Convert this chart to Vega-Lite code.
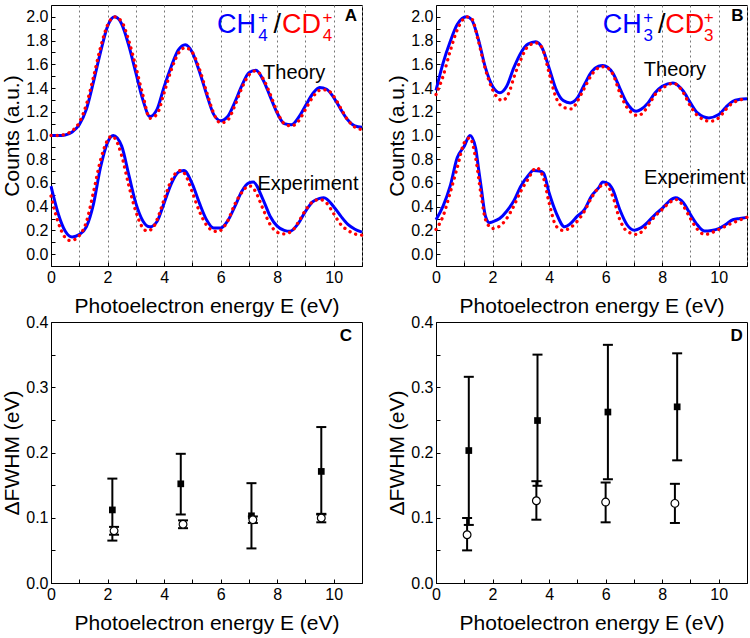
{
  "$schema": "https://vega.github.io/schema/vega-lite/v6.json",
  "padding": {"left": 1, "top": 4, "right": 4, "bottom": 0},
  "background": "white",
  "columns": 2,
  "spacing": {"row": 56, "column": 74},
  "bounds": "flush",
  "config": {
    "font": "Liberation Sans",
    "view": {"stroke": "black", "strokeWidth": 1},
    "axis": {"grid": false, "domainColor": "black", "domainWidth": 1, "tickColor": "black", "tickSize": -4, "tickWidth": 1, "labelPadding": 7, "labelFontSize": 16, "labelColor": "black", "labelFont": "Liberation Sans", "titleFont": "Liberation Sans", "titleFontSize": 21, "titleFontWeight": "normal", "titleColor": "black", "labelFlush": false, "labelOverlap": false},
    "axisX": {"titlePadding": 10},
    "axisY": {"titlePadding": 3}
  },
  "datasets": {
    "ATH": [{"E":0,"v":1.0},{"E":0.25,"v":1.0},{"E":0.5,"v":1.005},{"E":0.75,"v":1.03},{"E":1.0,"v":1.09},{"E":1.25,"v":1.22},{"E":1.5,"v":1.45},{"E":1.75,"v":1.7},{"E":2.0,"v":1.92},{"E":2.25,"v":2.0},{"E":2.5,"v":1.94},{"E":2.75,"v":1.76},{"E":3.0,"v":1.53},{"E":3.25,"v":1.3},{"E":3.5,"v":1.16},{"E":3.75,"v":1.22},{"E":4.0,"v":1.41},{"E":4.25,"v":1.58},{"E":4.5,"v":1.72},{"E":4.75,"v":1.765},{"E":5.0,"v":1.7},{"E":5.25,"v":1.54},{"E":5.5,"v":1.35},{"E":5.75,"v":1.18},{"E":6.0,"v":1.125},{"E":6.25,"v":1.16},{"E":6.5,"v":1.28},{"E":6.75,"v":1.42},{"E":7.0,"v":1.53},{"E":7.25,"v":1.55},{"E":7.5,"v":1.47},{"E":7.75,"v":1.33},{"E":8.0,"v":1.19},{"E":8.25,"v":1.1},{"E":8.5,"v":1.09},{"E":8.75,"v":1.15},{"E":9.0,"v":1.25},{"E":9.25,"v":1.35},{"E":9.5,"v":1.405},{"E":9.75,"v":1.39},{"E":10.0,"v":1.32},{"E":10.25,"v":1.22},{"E":10.5,"v":1.13},{"E":10.75,"v":1.08},{"E":11.0,"v":1.07}],
    "ATD": [{"E":0,"v":1.0},{"E":0.25,"v":1.0},{"E":0.5,"v":1.01},{"E":0.75,"v":1.04},{"E":1.0,"v":1.11},{"E":1.25,"v":1.26},{"E":1.5,"v":1.49},{"E":1.75,"v":1.74},{"E":2.0,"v":1.93},{"E":2.25,"v":2.0},{"E":2.5,"v":1.96},{"E":2.75,"v":1.8},{"E":3.0,"v":1.58},{"E":3.25,"v":1.34},{"E":3.5,"v":1.145},{"E":3.75,"v":1.18},{"E":4.0,"v":1.36},{"E":4.25,"v":1.55},{"E":4.5,"v":1.69},{"E":4.75,"v":1.74},{"E":5.0,"v":1.7},{"E":5.25,"v":1.56},{"E":5.5,"v":1.37},{"E":5.75,"v":1.19},{"E":6.0,"v":1.105},{"E":6.25,"v":1.13},{"E":6.5,"v":1.25},{"E":6.75,"v":1.4},{"E":7.0,"v":1.51},{"E":7.25,"v":1.545},{"E":7.5,"v":1.48},{"E":7.75,"v":1.35},{"E":8.0,"v":1.2},{"E":8.25,"v":1.1},{"E":8.5,"v":1.08},{"E":8.75,"v":1.12},{"E":9.0,"v":1.22},{"E":9.25,"v":1.32},{"E":9.5,"v":1.38},{"E":9.75,"v":1.385},{"E":10.0,"v":1.33},{"E":10.25,"v":1.23},{"E":10.5,"v":1.13},{"E":10.75,"v":1.07},{"E":11.0,"v":1.05}],
    "AEH": [{"E":0,"v":0.573},{"E":0.25,"v":0.345},{"E":0.5,"v":0.195},{"E":0.75,"v":0.145},{"E":1.0,"v":0.165},{"E":1.25,"v":0.23},{"E":1.5,"v":0.42},{"E":1.75,"v":0.73},{"E":2.0,"v":0.94},{"E":2.2,"v":1.0},{"E":2.5,"v":0.91},{"E":2.75,"v":0.67},{"E":3.0,"v":0.43},{"E":3.25,"v":0.28},{"E":3.5,"v":0.23},{"E":3.75,"v":0.275},{"E":4.0,"v":0.43},{"E":4.25,"v":0.59},{"E":4.5,"v":0.69},{"E":4.7,"v":0.705},{"E":5.0,"v":0.59},{"E":5.25,"v":0.43},{"E":5.5,"v":0.29},{"E":5.75,"v":0.22},{"E":6.0,"v":0.22},{"E":6.25,"v":0.28},{"E":6.5,"v":0.4},{"E":6.75,"v":0.53},{"E":7.0,"v":0.6},{"E":7.15,"v":0.607},{"E":7.5,"v":0.46},{"E":7.75,"v":0.32},{"E":8.0,"v":0.236},{"E":8.25,"v":0.2},{"E":8.45,"v":0.192},{"E":8.75,"v":0.26},{"E":9.0,"v":0.36},{"E":9.25,"v":0.44},{"E":9.5,"v":0.47},{"E":9.65,"v":0.475},{"E":10.0,"v":0.4},{"E":10.25,"v":0.32},{"E":10.5,"v":0.25},{"E":10.75,"v":0.21},{"E":11.0,"v":0.186}],
    "AED": [{"E":0,"v":0.49},{"E":0.25,"v":0.27},{"E":0.5,"v":0.14},{"E":0.67,"v":0.115},{"E":0.9,"v":0.13},{"E":1.0,"v":0.155},{"E":1.25,"v":0.27},{"E":1.5,"v":0.52},{"E":1.75,"v":0.79},{"E":2.0,"v":0.96},{"E":2.15,"v":0.995},{"E":2.25,"v":0.98},{"E":2.5,"v":0.83},{"E":2.75,"v":0.58},{"E":3.0,"v":0.36},{"E":3.25,"v":0.22},{"E":3.4,"v":0.195},{"E":3.6,"v":0.22},{"E":3.75,"v":0.29},{"E":4.0,"v":0.46},{"E":4.25,"v":0.62},{"E":4.5,"v":0.7},{"E":4.6,"v":0.705},{"E":4.75,"v":0.67},{"E":5.0,"v":0.52},{"E":5.25,"v":0.36},{"E":5.5,"v":0.245},{"E":5.75,"v":0.195},{"E":5.9,"v":0.19},{"E":6.0,"v":0.2},{"E":6.25,"v":0.28},{"E":6.5,"v":0.42},{"E":6.75,"v":0.52},{"E":7.0,"v":0.575},{"E":7.1,"v":0.57},{"E":7.25,"v":0.52},{"E":7.5,"v":0.38},{"E":7.75,"v":0.25},{"E":8.0,"v":0.185},{"E":8.2,"v":0.17},{"E":8.5,"v":0.19},{"E":8.75,"v":0.27},{"E":9.0,"v":0.37},{"E":9.25,"v":0.44},{"E":9.5,"v":0.46},{"E":9.75,"v":0.43},{"E":10.0,"v":0.34},{"E":10.25,"v":0.25},{"E":10.5,"v":0.2},{"E":10.75,"v":0.17},{"E":11.0,"v":0.16}],
    "BTH": [{"E":0,"v":1.38},{"E":0.25,"v":1.61},{"E":0.5,"v":1.79},{"E":0.75,"v":1.935},{"E":1.08,"v":2.0},{"E":1.25,"v":1.98},{"E":1.5,"v":1.81},{"E":1.75,"v":1.57},{"E":2.0,"v":1.415},{"E":2.26,"v":1.36},{"E":2.5,"v":1.415},{"E":2.75,"v":1.57},{"E":3.0,"v":1.696},{"E":3.25,"v":1.77},{"E":3.53,"v":1.79},{"E":3.75,"v":1.74},{"E":4.0,"v":1.57},{"E":4.25,"v":1.387},{"E":4.5,"v":1.295},{"E":4.75,"v":1.275},{"E":5.0,"v":1.317},{"E":5.25,"v":1.43},{"E":5.5,"v":1.536},{"E":5.75,"v":1.584},{"E":5.9,"v":1.59},{"E":6.25,"v":1.528},{"E":6.5,"v":1.4},{"E":6.75,"v":1.275},{"E":7.08,"v":1.205},{"E":7.25,"v":1.22},{"E":7.5,"v":1.275},{"E":7.75,"v":1.36},{"E":8.0,"v":1.415},{"E":8.38,"v":1.443},{"E":8.75,"v":1.373},{"E":9.0,"v":1.275},{"E":9.25,"v":1.19},{"E":9.65,"v":1.148},{"E":10.0,"v":1.176},{"E":10.25,"v":1.238},{"E":10.5,"v":1.289},{"E":10.75,"v":1.305},{"E":11.0,"v":1.31}],
    "BTD": [{"E":0,"v":1.345},{"E":0.25,"v":1.5},{"E":0.5,"v":1.71},{"E":0.75,"v":1.89},{"E":1.1,"v":2.0},{"E":1.25,"v":1.99},{"E":1.5,"v":1.795},{"E":1.75,"v":1.556},{"E":2.0,"v":1.387},{"E":2.35,"v":1.295},{"E":2.6,"v":1.373},{"E":2.75,"v":1.486},{"E":3.0,"v":1.64},{"E":3.25,"v":1.75},{"E":3.55,"v":1.78},{"E":3.75,"v":1.74},{"E":4.0,"v":1.528},{"E":4.25,"v":1.317},{"E":4.5,"v":1.238},{"E":4.8,"v":1.224},{"E":5.0,"v":1.289},{"E":5.25,"v":1.4},{"E":5.5,"v":1.51},{"E":5.75,"v":1.57},{"E":5.95,"v":1.58},{"E":6.25,"v":1.52},{"E":6.5,"v":1.36},{"E":6.75,"v":1.238},{"E":7.15,"v":1.168},{"E":7.5,"v":1.247},{"E":7.75,"v":1.345},{"E":8.0,"v":1.396},{"E":8.4,"v":1.44},{"E":8.75,"v":1.36},{"E":9.0,"v":1.247},{"E":9.25,"v":1.168},{"E":9.7,"v":1.12},{"E":10.0,"v":1.148},{"E":10.25,"v":1.219},{"E":10.5,"v":1.275},{"E":11.0,"v":1.31}],
    "BEH": [{"E":0,"v":0.29},{"E":0.25,"v":0.405},{"E":0.5,"v":0.573},{"E":0.75,"v":0.812},{"E":1.0,"v":0.91},{"E":1.2,"v":1.0},{"E":1.4,"v":0.897},{"E":1.5,"v":0.728},{"E":1.6,"v":0.559},{"E":1.75,"v":0.32},{"E":1.9,"v":0.264},{"E":2.0,"v":0.272},{"E":2.25,"v":0.3},{"E":2.5,"v":0.362},{"E":2.75,"v":0.447},{"E":3.0,"v":0.573},{"E":3.25,"v":0.658},{"E":3.44,"v":0.705},{"E":3.65,"v":0.7},{"E":3.8,"v":0.685},{"E":4.0,"v":0.517},{"E":4.25,"v":0.348},{"E":4.55,"v":0.23},{"E":4.75,"v":0.256},{"E":5.0,"v":0.32},{"E":5.25,"v":0.376},{"E":5.5,"v":0.489},{"E":5.75,"v":0.559},{"E":5.9,"v":0.607},{"E":6.1,"v":0.593},{"E":6.25,"v":0.545},{"E":6.5,"v":0.376},{"E":6.75,"v":0.25},{"E":7.02,"v":0.202},{"E":7.25,"v":0.222},{"E":7.5,"v":0.272},{"E":7.75,"v":0.334},{"E":8.0,"v":0.385},{"E":8.25,"v":0.447},{"E":8.47,"v":0.475},{"E":8.75,"v":0.433},{"E":9.0,"v":0.334},{"E":9.25,"v":0.245},{"E":9.5,"v":0.194},{"E":9.75,"v":0.2},{"E":10.0,"v":0.216},{"E":10.25,"v":0.25},{"E":10.5,"v":0.29},{"E":10.75,"v":0.3},{"E":11.0,"v":0.31}],
    "BED": [{"E":0,"v":0.208},{"E":0.25,"v":0.32},{"E":0.5,"v":0.517},{"E":0.75,"v":0.728},{"E":1.0,"v":0.939},{"E":1.2,"v":0.98},{"E":1.4,"v":0.812},{"E":1.6,"v":0.489},{"E":1.75,"v":0.292},{"E":2.0,"v":0.216},{"E":2.25,"v":0.236},{"E":2.5,"v":0.3},{"E":2.75,"v":0.405},{"E":3.0,"v":0.531},{"E":3.25,"v":0.63},{"E":3.55,"v":0.728},{"E":3.8,"v":0.643},{"E":4.0,"v":0.433},{"E":4.25,"v":0.236},{"E":4.5,"v":0.2},{"E":4.75,"v":0.222},{"E":5.0,"v":0.278},{"E":5.25,"v":0.362},{"E":5.5,"v":0.475},{"E":5.75,"v":0.559},{"E":6.0,"v":0.587},{"E":6.25,"v":0.489},{"E":6.5,"v":0.292},{"E":6.75,"v":0.194},{"E":7.1,"v":0.166},{"E":7.5,"v":0.25},{"E":7.75,"v":0.32},{"E":8.0,"v":0.376},{"E":8.25,"v":0.433},{"E":8.5,"v":0.46},{"E":8.75,"v":0.405},{"E":9.0,"v":0.3},{"E":9.25,"v":0.208},{"E":9.5,"v":0.166},{"E":9.75,"v":0.18},{"E":10.0,"v":0.208},{"E":10.5,"v":0.264},{"E":11.0,"v":0.31}],
    "C": [{"k":"sq","E":2.17,"v":0.112,"lo":0.065,"hi":0.16},{"k":"sq","E":4.59,"v":0.152,"lo":0.105,"hi":0.198},{"k":"sq","E":7.09,"v":0.103,"lo":0.053,"hi":0.153},{"k":"sq","E":9.56,"v":0.171,"lo":0.105,"hi":0.239},{"k":"ci","E":2.23,"v":0.08,"lo":0.074,"hi":0.086},{"k":"ci","E":4.67,"v":0.09,"lo":0.084,"hi":0.096},{"k":"ci","E":7.14,"v":0.097,"lo":0.092,"hi":0.102},{"k":"ci","E":9.56,"v":0.0996,"lo":0.093,"hi":0.106}],
    "D": [{"k":"sq","E":1.16,"v":0.203,"lo":0.089,"hi":0.316},{"k":"sq","E":3.59,"v":0.249,"lo":0.149,"hi":0.35},{"k":"sq","E":6.08,"v":0.262,"lo":0.159,"hi":0.365},{"k":"sq","E":8.53,"v":0.27,"lo":0.188,"hi":0.352},{"k":"ci","E":1.1,"v":0.074,"lo":0.05,"hi":0.0996},{"k":"ci","E":3.55,"v":0.126,"lo":0.097,"hi":0.156},{"k":"ci","E":6.0,"v":0.124,"lo":0.093,"hi":0.154},{"k":"ci","E":8.45,"v":0.122,"lo":0.092,"hi":0.152}],
    "labels": [
      {"p":"A","r":"letter","t":"A","sp":"K","E":10.61,"v":2.005},
      {"p":"B","r":"letter","t":"B","sp":"K","E":10.66,"v":2.005},
      {"p":"C","r":"letter","t":"C","sp":"K","E":10.43,"v":0.378},
      {"p":"D","r":"letter","t":"D","sp":"K","E":10.63,"v":0.378},
      {"p":"A","r":"note","t":"Theory","sp":"K","E":7.5,"v":1.475},
      {"p":"A","r":"note","t":"Experiment","sp":"K","E":7.3,"v":0.54},
      {"p":"B","r":"note","t":"Theory","sp":"K","E":7.35,"v":1.5},
      {"p":"B","r":"note","t":"Experiment","sp":"K","E":7.36,"v":0.59},
      {"p":"A","r":"big","t":"CH","sp":"H","E":5.87,"v":1.863},
      {"p":"A","r":"big","t":"/","sp":"K","E":7.87,"v":1.863},
      {"p":"A","r":"big","t":"CD","sp":"D","E":8.17,"v":1.863},
      {"p":"A","r":"small","t":"4","sp":"H","E":7.5,"v":1.796},
      {"p":"A","r":"small","t":"+","sp":"H","E":7.5,"v":1.948},
      {"p":"A","r":"small","t":"4","sp":"D","E":9.78,"v":1.796},
      {"p":"A","r":"small","t":"+","sp":"D","E":9.78,"v":1.948},
      {"p":"B","r":"big","t":"CH","sp":"H","E":5.9,"v":1.866},
      {"p":"B","r":"big","t":"/","sp":"K","E":7.85,"v":1.866},
      {"p":"B","r":"big","t":"CD","sp":"D","E":8.11,"v":1.866},
      {"p":"B","r":"small","t":"3","sp":"H","E":7.51,"v":1.799},
      {"p":"B","r":"small","t":"+","sp":"H","E":7.51,"v":1.951},
      {"p":"B","r":"small","t":"3","sp":"D","E":9.65,"v":1.799},
      {"p":"B","r":"small","t":"+","sp":"D","E":9.65,"v":1.951}
    ]
  },
  "concat": [
    {
      "width": 311, "height": 261,
      "encoding": {
        "x": {"field": "E", "type": "quantitative", "scale": {"domain": [0, 11], "nice": false}, "axis": {"title": "Photoelectron energy E (eV)", "values": [0,1,2,3,4,5,6,7,8,9,10,11], "labelExpr": "datum.value % 2 == 0 && datum.value < 11 ? datum.label : ''", "grid": true, "gridDash": [2, 3], "gridColor": "#777777", "gridWidth": 1}},
        "y": {"field": "v", "type": "quantitative", "scale": {"domain": [-0.1, 2.1], "nice": false, "zero": false}, "axis": {"title": "Counts (a.u.)", "values": [0,0.1,0.2,0.3,0.4,0.5,0.6,0.7,0.8,0.9,1.0,1.1,1.2,1.3,1.4,1.5,1.6,1.7,1.8,1.9,2.0], "labelExpr": "round(datum.value*10) % 2 == 0 ? format(datum.value, '.1f') : ''"}}
      },
      "layer": [
        {"data": {"name": "ATH"}, "mark": {"type": "line", "color": "#0000ff", "strokeWidth": 3, "interpolate": "monotone"}},
        {"data": {"name": "AEH"}, "mark": {"type": "line", "color": "#0000ff", "strokeWidth": 3, "interpolate": "monotone"}},
        {"data": {"name": "ATD"}, "mark": {"type": "line", "color": "#ff0000", "strokeWidth": 3.3, "strokeDash": [0.1, 6], "strokeCap": "round", "interpolate": "monotone"}},
        {"data": {"name": "AED"}, "mark": {"type": "line", "color": "#ff0000", "strokeWidth": 3.3, "strokeDash": [0.1, 6], "strokeCap": "round", "interpolate": "monotone"}},
        {"data": {"name": "labels"}, "transform": [{"filter": "datum.p == 'A' && datum.r == 'letter'"}], "mark": {"type": "text", "fontSize": 17, "fontWeight": "bold", "align": "center", "baseline": "middle", "color": "black"}, "encoding": {"text": {"field": "t"}}},
        {"data": {"name": "labels"}, "transform": [{"filter": "datum.p == 'A' && datum.r == 'note'"}], "mark": {"type": "text", "fontSize": 20, "align": "left", "baseline": "alphabetic", "color": "black"}, "encoding": {"text": {"field": "t"}}},
        {"data": {"name": "labels"}, "transform": [{"filter": "datum.p == 'A' && datum.r == 'big'"}], "mark": {"type": "text", "fontSize": 27, "align": "left", "baseline": "alphabetic"}, "encoding": {"text": {"field": "t"}, "color": {"field": "sp", "type": "nominal", "scale": {"domain": ["H", "D", "K"], "range": ["#0000ff", "#ff0000", "#000000"]}, "legend": null}}},
        {"data": {"name": "labels"}, "transform": [{"filter": "datum.p == 'A' && datum.r == 'small'"}], "mark": {"type": "text", "fontSize": 17, "align": "center", "baseline": "alphabetic"}, "encoding": {"text": {"field": "t"}, "color": {"field": "sp", "type": "nominal", "scale": {"domain": ["H", "D", "K"], "range": ["#0000ff", "#ff0000", "#000000"]}, "legend": null}}}
      ]
    },
    {
      "width": 311, "height": 261,
      "encoding": {
        "x": {"field": "E", "type": "quantitative", "scale": {"domain": [0, 11], "nice": false}, "axis": {"title": "Photoelectron energy E (eV)", "values": [0,1,2,3,4,5,6,7,8,9,10,11], "labelExpr": "datum.value % 2 == 0 && datum.value < 11 ? datum.label : ''", "grid": true, "gridDash": [2, 3], "gridColor": "#777777", "gridWidth": 1}},
        "y": {"field": "v", "type": "quantitative", "scale": {"domain": [-0.1, 2.1], "nice": false, "zero": false}, "axis": {"title": "Counts (a.u.)", "values": [0,0.1,0.2,0.3,0.4,0.5,0.6,0.7,0.8,0.9,1.0,1.1,1.2,1.3,1.4,1.5,1.6,1.7,1.8,1.9,2.0], "labelExpr": "round(datum.value*10) % 2 == 0 ? format(datum.value, '.1f') : ''"}}
      },
      "layer": [
        {"data": {"name": "BTH"}, "mark": {"type": "line", "color": "#0000ff", "strokeWidth": 3, "interpolate": "monotone"}},
        {"data": {"name": "BEH"}, "mark": {"type": "line", "color": "#0000ff", "strokeWidth": 3, "interpolate": "monotone"}},
        {"data": {"name": "BTD"}, "mark": {"type": "line", "color": "#ff0000", "strokeWidth": 3.3, "strokeDash": [0.1, 6], "strokeCap": "round", "interpolate": "monotone"}},
        {"data": {"name": "BED"}, "mark": {"type": "line", "color": "#ff0000", "strokeWidth": 3.3, "strokeDash": [0.1, 6], "strokeCap": "round", "interpolate": "monotone"}},
        {"data": {"name": "labels"}, "transform": [{"filter": "datum.p == 'B' && datum.r == 'letter'"}], "mark": {"type": "text", "fontSize": 17, "fontWeight": "bold", "align": "center", "baseline": "middle", "color": "black"}, "encoding": {"text": {"field": "t"}}},
        {"data": {"name": "labels"}, "transform": [{"filter": "datum.p == 'B' && datum.r == 'note'"}], "mark": {"type": "text", "fontSize": 20, "align": "left", "baseline": "alphabetic", "color": "black"}, "encoding": {"text": {"field": "t"}}},
        {"data": {"name": "labels"}, "transform": [{"filter": "datum.p == 'B' && datum.r == 'big'"}], "mark": {"type": "text", "fontSize": 27, "align": "left", "baseline": "alphabetic"}, "encoding": {"text": {"field": "t"}, "color": {"field": "sp", "type": "nominal", "scale": {"domain": ["H", "D", "K"], "range": ["#0000ff", "#ff0000", "#000000"]}, "legend": null}}},
        {"data": {"name": "labels"}, "transform": [{"filter": "datum.p == 'B' && datum.r == 'small'"}], "mark": {"type": "text", "fontSize": 17, "align": "center", "baseline": "alphabetic"}, "encoding": {"text": {"field": "t"}, "color": {"field": "sp", "type": "nominal", "scale": {"domain": ["H", "D", "K"], "range": ["#0000ff", "#ff0000", "#000000"]}, "legend": null}}}
      ]
    },
    {
      "width": 311, "height": 261,
      "encoding": {
        "x": {"field": "E", "type": "quantitative", "scale": {"domain": [0, 11], "nice": false}, "axis": {"title": "Photoelectron energy E (eV)", "values": [0,1,2,3,4,5,6,7,8,9,10,11], "labelExpr": "datum.value % 2 == 0 && datum.value < 11 ? datum.label : ''"}},
        "y": {"field": "v", "type": "quantitative", "scale": {"domain": [0, 0.4], "nice": false}, "axis": {"title": "ΔFWHM (eV)", "values": [0,0.05,0.1,0.15,0.2,0.25,0.3,0.35,0.4], "labelExpr": "round(datum.value*20) % 2 == 0 ? format(datum.value, '.1f') : ''"}}
      },
      "layer": [
        {"data": {"name": "C"}, "mark": {"type": "rule", "color": "black", "strokeWidth": 2}, "encoding": {"y": {"field": "lo", "type": "quantitative", "scale": {"domain": [0, 0.4], "nice": false}}, "y2": {"field": "hi"}}},
        {"data": {"name": "C"}, "mark": {"type": "tick", "orient": "horizontal", "size": 10, "thickness": 2, "color": "black", "opacity": 1}, "encoding": {"y": {"field": "lo", "type": "quantitative", "scale": {"domain": [0, 0.4], "nice": false}}}},
        {"data": {"name": "C"}, "mark": {"type": "tick", "orient": "horizontal", "size": 10, "thickness": 2, "color": "black", "opacity": 1}, "encoding": {"y": {"field": "hi", "type": "quantitative", "scale": {"domain": [0, 0.4], "nice": false}}}},
        {"data": {"name": "C"}, "transform": [{"filter": "datum.k == 'sq'"}], "mark": {"type": "square", "size": 45, "filled": true, "color": "black", "opacity": 1}},
        {"data": {"name": "C"}, "transform": [{"filter": "datum.k == 'ci'"}], "mark": {"type": "point", "shape": "circle", "size": 60, "filled": true, "fill": "white", "stroke": "black", "strokeWidth": 1.2, "opacity": 1}},
        {"data": {"name": "labels"}, "transform": [{"filter": "datum.p == 'C' && datum.r == 'letter'"}], "mark": {"type": "text", "fontSize": 17, "fontWeight": "bold", "align": "center", "baseline": "middle", "color": "black"}, "encoding": {"text": {"field": "t"}}}
      ]
    },
    {
      "width": 311, "height": 261,
      "encoding": {
        "x": {"field": "E", "type": "quantitative", "scale": {"domain": [0, 11], "nice": false}, "axis": {"title": "Photoelectron energy E (eV)", "values": [0,1,2,3,4,5,6,7,8,9,10,11], "labelExpr": "datum.value % 2 == 0 && datum.value < 11 ? datum.label : ''"}},
        "y": {"field": "v", "type": "quantitative", "scale": {"domain": [0, 0.4], "nice": false}, "axis": {"title": "ΔFWHM (eV)", "values": [0,0.05,0.1,0.15,0.2,0.25,0.3,0.35,0.4], "labelExpr": "round(datum.value*20) % 2 == 0 ? format(datum.value, '.1f') : ''"}}
      },
      "layer": [
        {"data": {"name": "D"}, "mark": {"type": "rule", "color": "black", "strokeWidth": 2}, "encoding": {"y": {"field": "lo", "type": "quantitative", "scale": {"domain": [0, 0.4], "nice": false}}, "y2": {"field": "hi"}}},
        {"data": {"name": "D"}, "mark": {"type": "tick", "orient": "horizontal", "size": 10, "thickness": 2, "color": "black", "opacity": 1}, "encoding": {"y": {"field": "lo", "type": "quantitative", "scale": {"domain": [0, 0.4], "nice": false}}}},
        {"data": {"name": "D"}, "mark": {"type": "tick", "orient": "horizontal", "size": 10, "thickness": 2, "color": "black", "opacity": 1}, "encoding": {"y": {"field": "hi", "type": "quantitative", "scale": {"domain": [0, 0.4], "nice": false}}}},
        {"data": {"name": "D"}, "transform": [{"filter": "datum.k == 'sq'"}], "mark": {"type": "square", "size": 45, "filled": true, "color": "black", "opacity": 1}},
        {"data": {"name": "D"}, "transform": [{"filter": "datum.k == 'ci'"}], "mark": {"type": "point", "shape": "circle", "size": 60, "filled": true, "fill": "white", "stroke": "black", "strokeWidth": 1.2, "opacity": 1}},
        {"data": {"name": "labels"}, "transform": [{"filter": "datum.p == 'D' && datum.r == 'letter'"}], "mark": {"type": "text", "fontSize": 17, "fontWeight": "bold", "align": "center", "baseline": "middle", "color": "black"}, "encoding": {"text": {"field": "t"}}}
      ]
    }
  ]
}
